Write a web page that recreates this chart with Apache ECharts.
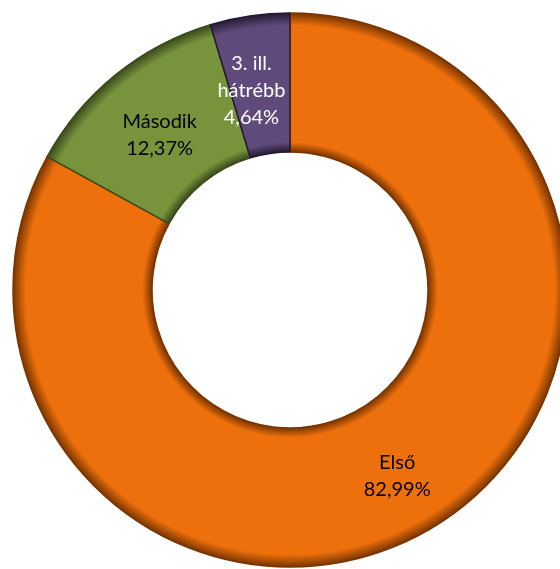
<!DOCTYPE html>
<html>
<head>
<meta charset="utf-8">
<script src="https://cdn.jsdelivr.net/npm/echarts@6/dist/echarts.min.js"></script>
<style>
  html, body { margin: 0; padding: 0; background: #fff; }
  #chart { width: 560px; height: 569px; }
</style>
</head>
<body>
<div id="chart"></div>
<script>
// kategóriák és értékek (%)
var categories = ['Első', 'Második', '3. ill.\nhátrébb']
var values = [82.99, 12.37, 4.64]
var baseColors = ['#ED700C', '#77933C', '#604A7B']
var edgeColors = ['#7A3500', '#3B4A1C', '#251A33']
var labelColors = ['#000', '#000', '#fff']
var labelShift = [[0, 5], [2, 9], [-8, 9]]

var cx = 290, cy = 290, outerR = 277, innerR = 138

function bevel(base, edge) {
  var r0 = innerR / outerR
  return new echarts.graphic.RadialGradient(cx, cy, outerR, [
    { offset: 0, color: edge },
    { offset: r0, color: edge },
    { offset: r0 + 0.035, color: base },
    { offset: 0.955, color: base },
    { offset: 1, color: edge }
  ], true)
}

var seriesData = categories.map(function (name, i) {
  return {
    name: name,
    value: values[i],
    itemStyle: {
      color: bevel(baseColors[i], edgeColors[i]),
      borderColor: edgeColors[i],
      borderWidth: 1.5
    },
    label: { color: labelColors[i], offset: labelShift[i] }
  }
})

var myChart = echarts.init(document.getElementById('chart'))
var option = {
  animation: false,
  series: [
    {
      type: 'pie',
      center: [cx, cy],
      radius: [innerR, outerR],
      startAngle: 90,
      clockwise: true,
      avoidLabelOverlap: false,
      label: {
        show: true,
        position: 'inside',
        fontFamily: 'Lato, "Open Sans", sans-serif',
        fontSize: 20,
        lineHeight: 27,
        formatter: function (p) {
          return p.name + '\n' + p.value.toFixed(2).replace('.', ',') + '%'
        }
      },
      labelLine: { show: false },
      emphasis: { disabled: true },
      data: seriesData
    }
  ]
}
myChart.setOption(option)
</script>
</body>
</html>
